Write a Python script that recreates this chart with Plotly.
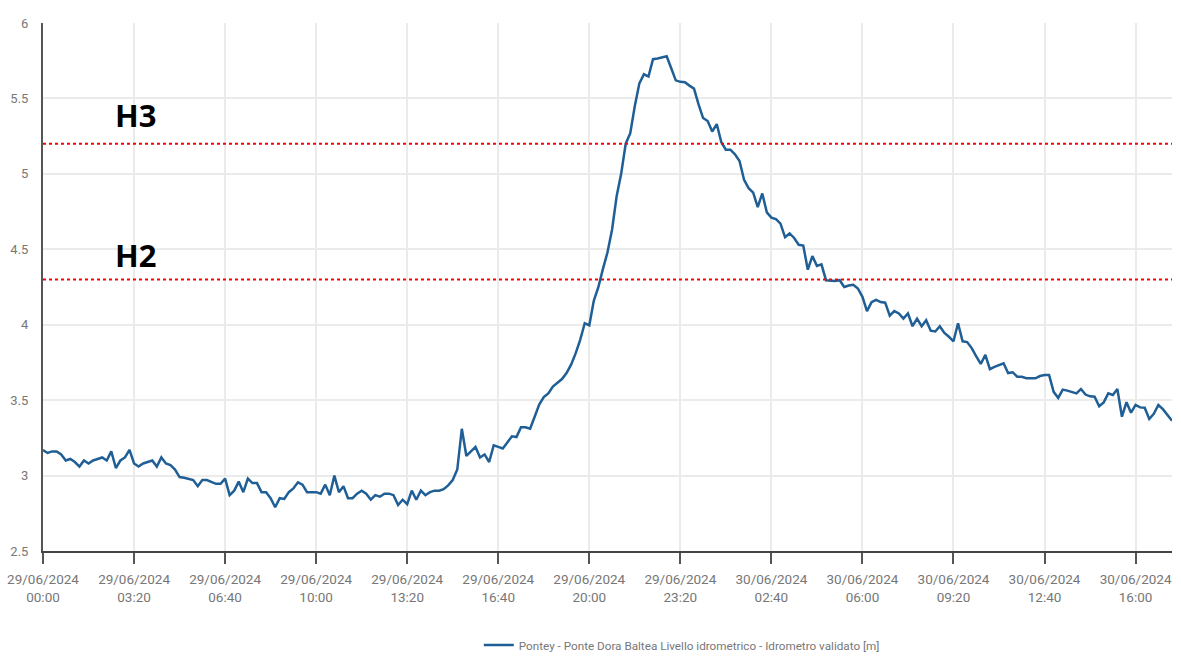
import plotly.graph_objects as go
import pandas as pd

# 10-minute readings from 29/06/2024 00:00 to 30/06/2024 17:20
start_time = "2024-06-29 00:00"
step_minutes = 10
levels = [
    3.17, 3.15, 3.16, 3.16, 3.14, 3.10, 3.11, 3.09, 3.06, 3.10,
    3.08, 3.10, 3.11, 3.12, 3.10, 3.16, 3.05, 3.10, 3.12, 3.17,
    3.08, 3.06, 3.08, 3.09, 3.10, 3.06, 3.12, 3.08, 3.07, 3.04,
    2.99, 2.985, 2.98, 2.97, 2.93, 2.97, 2.97, 2.96, 2.945, 2.945,
    2.98, 2.87, 2.90, 2.96, 2.89, 2.98, 2.95, 2.95, 2.89, 2.89,
    2.85, 2.79, 2.85, 2.845, 2.89, 2.915, 2.955, 2.94, 2.89, 2.89,
    2.89, 2.88, 2.94, 2.87, 3.00, 2.89, 2.93, 2.85, 2.85, 2.88,
    2.90, 2.88, 2.84, 2.87, 2.86, 2.88, 2.88, 2.87, 2.805, 2.84,
    2.81, 2.90, 2.84, 2.90, 2.87, 2.89, 2.90, 2.90, 2.91, 2.935,
    2.97, 3.04, 3.31, 3.13, 3.16, 3.19, 3.12, 3.14, 3.09, 3.20,
    3.19, 3.18, 3.22, 3.26, 3.255, 3.32, 3.32, 3.31, 3.39, 3.47,
    3.52, 3.545, 3.59, 3.615, 3.64, 3.68, 3.735, 3.81, 3.90, 4.01,
    3.995, 4.16, 4.25, 4.37, 4.48, 4.63, 4.85, 5.00, 5.20, 5.27,
    5.45, 5.60, 5.66, 5.645, 5.76, 5.765, 5.77, 5.78, 5.70, 5.62,
    5.61, 5.607, 5.585, 5.565, 5.46, 5.37, 5.35, 5.28, 5.33, 5.21,
    5.16, 5.16, 5.13, 5.085, 4.96, 4.905, 4.875, 4.78, 4.87, 4.745,
    4.71, 4.70, 4.67, 4.58, 4.605, 4.575, 4.53, 4.525, 4.365, 4.455,
    4.39, 4.40, 4.295, 4.29, 4.29, 4.295, 4.25, 4.26, 4.265, 4.24,
    4.185, 4.09, 4.15, 4.165, 4.15, 4.146, 4.06, 4.09, 4.075, 4.04,
    4.075, 3.99, 4.04, 3.99, 4.03, 3.96, 3.955, 3.99, 3.945, 3.92,
    3.89, 4.01, 3.89, 3.885, 3.845, 3.79, 3.74, 3.80, 3.705, 3.72,
    3.733, 3.744, 3.68, 3.685, 3.655, 3.655, 3.645, 3.645, 3.645, 3.66,
    3.667, 3.667, 3.555, 3.515, 3.57, 3.563, 3.553, 3.545, 3.574, 3.537,
    3.525, 3.523, 3.46, 3.485, 3.545, 3.534, 3.574, 3.39, 3.486, 3.417,
    3.468, 3.452, 3.45, 3.375, 3.41, 3.468, 3.44, 3.40, 3.364,
]
times = pd.date_range(start_time, periods=len(levels), freq=f"{step_minutes}min")

threshold_names = ["H3", "H2"]
threshold_values = [5.2, 4.3]
threshold_label_y = [5.39, 4.46]

tick_times = pd.date_range("2024-06-29 00:00", periods=13, freq="200min")
tick_labels = [t.strftime("%d/%m/%Y") + "<br>" + t.strftime("%H:%M") for t in tick_times]
y_ticks = [2.5, 3, 3.5, 4, 4.5, 5, 5.5, 6]
y_tick_labels = ["2.5", "3", "3.5", "4", "4.5", "5", "5.5", "6"]

series_name = "Pontey - Ponte Dora Baltea Livello idrometrico - Idrometro validato [m]"

fig = go.Figure()
fig.add_trace(go.Scatter(
    x=times, y=levels, mode="lines", name=series_name,
    line=dict(color="#1f5f96", width=2.5),
))

for name, val, ly in zip(threshold_names, threshold_values, threshold_label_y):
    fig.add_shape(type="line", xref="paper", x0=0, x1=1, yref="y", y0=val, y1=val,
                  line=dict(color="#ff0000", width=2, dash="dot"))
    fig.add_annotation(text="<b>" + name + "</b>", xref="paper", x=0.0815, xanchor="center",
                       yref="y", y=ly, yanchor="middle",
                       showarrow=False, font=dict(family="Noto Sans", size=31, color="#000000"))

fig.update_layout(
    width=1181, height=656, autosize=False,
    margin=dict(l=43, r=9, t=23, b=105, autoexpand=False),
    plot_bgcolor="white", paper_bgcolor="white",
    showlegend=True,
    legend=dict(orientation="h", x=0.386, xanchor="left", y=-0.178, yanchor="middle",
                font=dict(family="Liberation Sans Narrow, Roboto", size=11.7, color="#777777"),
                bgcolor="rgba(0,0,0,0)"),
    font=dict(family="Liberation Sans Narrow, Roboto", color="#777777"),
)
fig.update_xaxes(
    range=[times[0], times[-1]],
    tickvals=tick_times, ticktext=tick_labels,
    showgrid=True, gridcolor="#ebebeb", gridwidth=1.5,
    showline=True, linecolor="#444444", linewidth=2,
    ticks="outside", ticklen=11, tickwidth=2, tickcolor="#555555",
    ticklabelstandoff=4,
    tickfont=dict(size=13.5, color="#777777"),
    zeroline=False, automargin=False,
)
fig.update_yaxes(
    range=[2.5, 6], tickvals=y_ticks, ticktext=y_tick_labels,
    showgrid=True, gridcolor="#ebebeb", gridwidth=1.5,
    showline=True, linecolor="#555555", linewidth=2,
    ticks="", ticklabelstandoff=10,
    tickfont=dict(size=13, color="#777777"),
    zeroline=False, automargin=False,
)

fig.write_html("out.html", config={"responsive": False, "displayModeBar": False},
               post_script="document.body.style.margin='0';document.body.style.overflow='hidden';")
